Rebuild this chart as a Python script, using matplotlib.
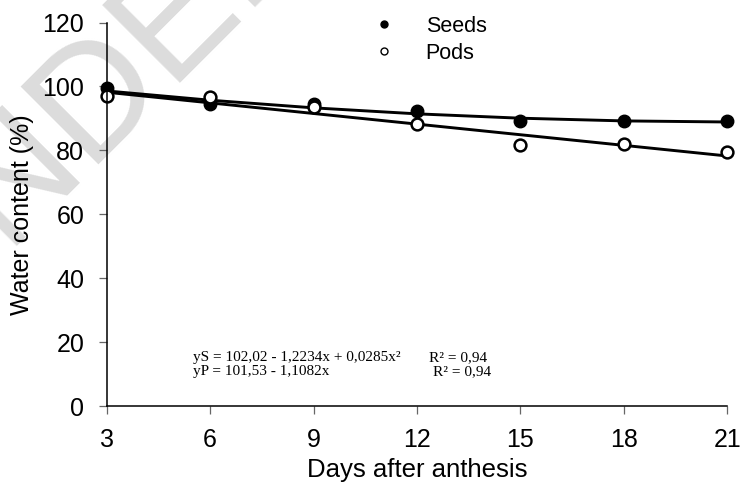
'''Water content of seeds and pods after anthesis'''
import matplotlib
matplotlib.use('Agg')
import matplotlib.pyplot as plt
import numpy as np

days = [3, 6, 9, 12, 15, 18, 21]
seeds = [99.5, 94.6, 94.5, 92.3, 89.3, 89.3, 89.1]
pods = [96.9, 96.8, 93.6, 88.4, 81.8, 81.9, 79.4]

# trend line coefficients as printed on the chart (c0, c1, c2)
seeds_coef = [102.02, -1.2234, 0.0285]
pods_coef = [101.53, -1.1082, 0.0]

eq_seeds = 'yS = 102,02 - 1,2234x + 0,0285x²'
eq_pods = 'yP = 101,53 - 1,1082x'
r2_seeds = 'R² = 0,94'
r2_pods = 'R² = 0,94'

SANS = 'Liberation Sans'
SERIF = 'Liberation Serif'
TICKC = '#666666'

fig = plt.figure(figsize=(7.4, 4.9), dpi=100)
ax = fig.add_axes([0.144, 0.171, 0.839, 0.783])

# faint watermark in the top left corner, behind everything
fig.text(0.455, 1.27, 'UNDER REVIEW', fontsize=115, color='#dcdcdc',
         family=SANS, rotation=45, rotation_mode='anchor',
         ha='center', va='center', zorder=-1)
ax.patch.set_alpha(0)

xs = np.linspace(days[0], days[-1], 7)
ax.plot(xs, np.polyval(seeds_coef[::-1], xs), color='black', lw=2.1, zorder=2)
ax.plot(xs, np.polyval(pods_coef[::-1], xs), color='black', lw=2.1, zorder=2)

ax.plot(days, seeds, 'o', color='black', ms=9, ls='none', zorder=3)
ax.plot(days, pods, 'o', mfc='white', mec='black', mew=1.8, ms=8.5, ls='none', zorder=4)

# legend handles
hs, = ax.plot([], [], 'o', color='black', ms=5, ls='none')
hp, = ax.plot([], [], 'o', mfc='white', mec='black', mew=1, ms=5, ls='none')
ax.legend([hs, hp], ['Seeds', 'Pods'], loc='upper left', bbox_to_anchor=(0.429, 1.018),
          borderaxespad=0, borderpad=0, frameon=False,
          prop={'family': SANS, 'size': 15.5}, handlelength=1,
          handletextpad=1.45, labelspacing=0.28)

ax.text(5.5, 15.1, eq_seeds, family=SERIF, fontsize=11, va='center')
ax.text(5.5, 10.7, eq_pods, family=SERIF, fontsize=11, va='center')
ax.text(12.35, 15.1, r2_seeds, family=SERIF, fontsize=11, va='center')
ax.text(12.45, 10.7, r2_pods, family=SERIF, fontsize=11, va='center')

ax.set_xlim(3, 21)
ax.set_ylim(0, 120)
ax.set_xticks(days)
ax.set_yticks(range(0, 121, 20))
ax.spines['top'].set_visible(False)
ax.spines['right'].set_visible(False)
ax.spines['left'].set_linewidth(1.1)
ax.spines['bottom'].set_linewidth(1.1)
ax.spines['left'].set_zorder(5)
ax.tick_params(axis='both', direction='out', length=6, width=0.9, color=TICKC,
               labelsize=18, pad=10)
for lab in ax.get_xticklabels() + ax.get_yticklabels():
    lab.set_family(SANS)

ax.set_xlabel('Days after anthesis', family=SANS, fontsize=18.5, labelpad=4)
ax.set_ylabel('Water content (%)', family=SANS, fontsize=18, labelpad=6)

for sp in ax.spines.values():
    sp.set_clip_on(False)
for ln in ax.lines:
    ln.set_clip_on(False)

fig.savefig('out.png', dpi=100)
